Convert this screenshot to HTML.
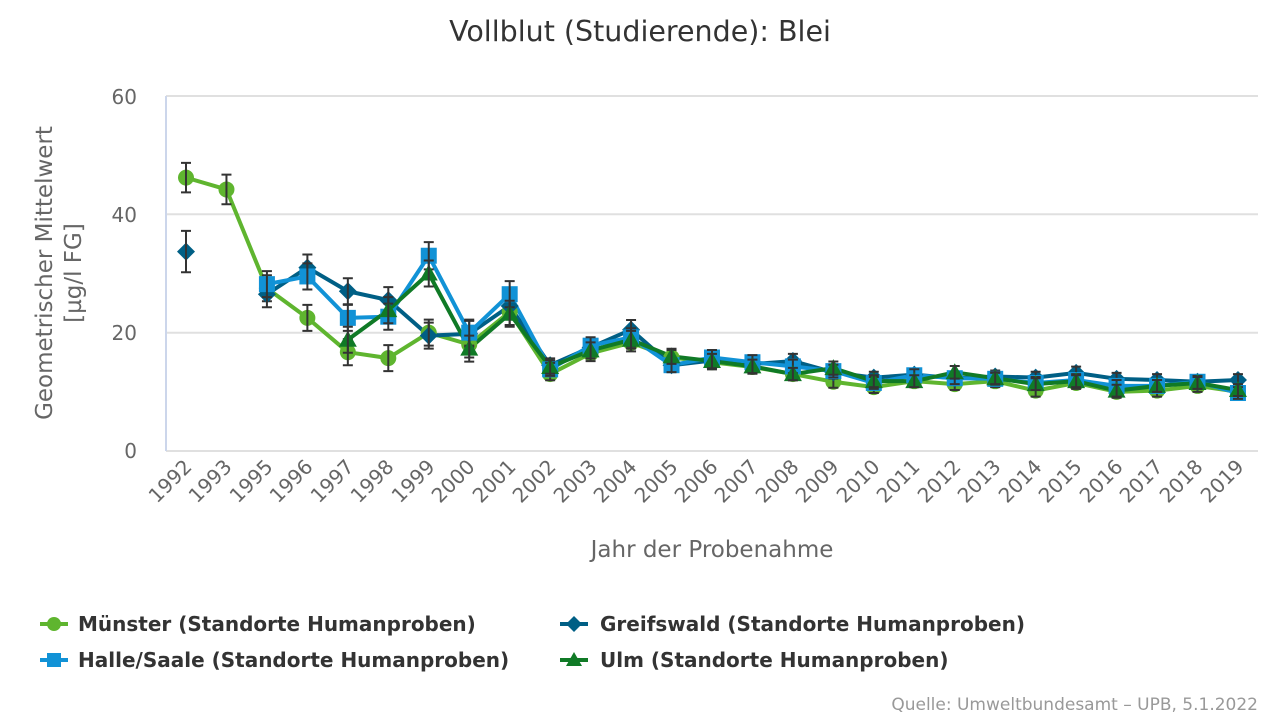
<!DOCTYPE html>
<html><head><meta charset="utf-8"><style>
body{margin:0;background:#fff;font-family:"DejaVu Sans",sans-serif;}
</style></head><body>
<svg width="1280" height="720" xmlns="http://www.w3.org/2000/svg" font-family="DejaVu Sans, sans-serif">
<text x="640" y="41" font-size="28.5" text-anchor="middle" fill="#333">Vollblut (Studierende): Blei</text>
<g stroke="#e0e0e0" stroke-width="2">
<line x1="166" y1="96" x2="1258" y2="96"/><line x1="166" y1="214.3" x2="1258" y2="214.3"/><line x1="166" y1="332.7" x2="1258" y2="332.7"/><line x1="166" y1="451" x2="1258" y2="451"/>
</g>
<line x1="166" y1="96" x2="166" y2="451" stroke="#ccd6eb" stroke-width="2"/>
<g font-size="20" fill="#666" text-anchor="end">
<text x="137" y="104">60</text><text x="137" y="222">40</text><text x="137" y="340">20</text><text x="137" y="458">0</text>
</g>
<text transform="translate(52,273) rotate(-90)" font-size="23" fill="#666" text-anchor="middle">Geometrischer Mittelwert</text>
<text transform="translate(81,273) rotate(-90)" font-size="23" fill="#666" text-anchor="middle">[µg/l FG]</text>
<g font-size="20" fill="#666" text-anchor="end">
<text transform="translate(193,468) rotate(-45)">1992</text>
<text transform="translate(233,468) rotate(-45)">1993</text>
<text transform="translate(274,468) rotate(-45)">1995</text>
<text transform="translate(314,468) rotate(-45)">1996</text>
<text transform="translate(355,468) rotate(-45)">1997</text>
<text transform="translate(395,468) rotate(-45)">1998</text>
<text transform="translate(436,468) rotate(-45)">1999</text>
<text transform="translate(476,468) rotate(-45)">2000</text>
<text transform="translate(517,468) rotate(-45)">2001</text>
<text transform="translate(557,468) rotate(-45)">2002</text>
<text transform="translate(598,468) rotate(-45)">2003</text>
<text transform="translate(638,468) rotate(-45)">2004</text>
<text transform="translate(679,468) rotate(-45)">2005</text>
<text transform="translate(719,468) rotate(-45)">2006</text>
<text transform="translate(759,468) rotate(-45)">2007</text>
<text transform="translate(800,468) rotate(-45)">2008</text>
<text transform="translate(840,468) rotate(-45)">2009</text>
<text transform="translate(881,468) rotate(-45)">2010</text>
<text transform="translate(921,468) rotate(-45)">2011</text>
<text transform="translate(962,468) rotate(-45)">2012</text>
<text transform="translate(1002,468) rotate(-45)">2013</text>
<text transform="translate(1043,468) rotate(-45)">2014</text>
<text transform="translate(1083,468) rotate(-45)">2015</text>
<text transform="translate(1124,468) rotate(-45)">2016</text>
<text transform="translate(1164,468) rotate(-45)">2017</text>
<text transform="translate(1204,468) rotate(-45)">2018</text>
<text transform="translate(1245,468) rotate(-45)">2019</text>
</g>
<text x="712" y="557" font-size="23" fill="#666" text-anchor="middle">Jahr der Probenahme</text>
<g id="series"></g>
<g font-size="20" fill="#333" font-weight="bold">
<line x1="40" y1="624" x2="68" y2="624" stroke="#5fb52f" stroke-width="4"/><circle cx="54" cy="624" r="7" fill="#5fb52f"/>
<text x="78" y="631">Münster (Standorte Humanproben)</text>
<line x1="40" y1="660" x2="68" y2="660" stroke="#1192d6" stroke-width="4"/><rect x="47" y="653" width="14" height="14" fill="#1192d6"/>
<text x="78" y="667">Halle/Saale (Standorte Humanproben)</text>
<line x1="560" y1="624" x2="588" y2="624" stroke="#005f85" stroke-width="4"/><path d="M574 616 L582 624 L574 632 L566 624Z" fill="#005f85"/>
<text x="600" y="631">Greifswald (Standorte Humanproben)</text>
<line x1="560" y1="660" x2="588" y2="660" stroke="#107a26" stroke-width="4"/><path d="M574 652 L582 666 L566 666Z" fill="#107a26"/>
<text x="600" y="667">Ulm (Standorte Humanproben)</text>
</g>
<text x="1258" y="710" font-size="17" fill="#999" text-anchor="end">Quelle: Umweltbundesamt – UPB, 5.1.2022</text>
</svg>
<script>
var N=null;
var S=[
{c:"#5fb52f",m:"c",d:[46.2,44.2,27.5,22.5,16.7,15.7,20,18,23.5,13,16.5,18.3,15.8,15,14.2,13,11.7,10.8,11.8,11.3,11.8,10.2,11.5,10,10.2,11,10]},
{c:"#005f85",m:"d",d:[33.7,N,26.5,31,27,25.5,19.5,19.8,24.5,14.5,17.5,20.5,14.5,15.3,14.7,15.2,13.3,12.4,12.9,12.3,12.6,12.4,13.2,12.2,12,11.7,12]},
{c:"#1192d6",m:"s",d:[N,N,28.2,29.5,22.5,22.7,33,20,26.5,13.8,17.8,19.2,14.5,15.8,15,14.3,13.5,11.5,12.8,12.3,12.2,11.5,12,11,11,11.7,9.8]},
{c:"#107a26",m:"t",d:[N,N,N,N,18.8,23.8,30,17.3,23.2,14.2,17,18.8,16,15.2,14.3,13,14,11.8,11.8,13.3,12.3,11.3,11.8,10.2,11,11.5,10.3]}
];
var X=i=>186+i*40.46,Y=v=>451-v*5.917,h="";
S.forEach(s=>{var p="",st=false;s.d.forEach((v,i)=>{if(v==N){st=false;return;}p+=(st?"L":"M")+X(i)+" "+Y(v);st=true;});
h+='<path d="'+p+'" fill="none" stroke="'+s.c+'" stroke-width="4" stroke-linejoin="round"/>';});
S.forEach(s=>{s.d.forEach((v,i)=>{if(v==N)return;var x=X(i),y=Y(v);
if(s.m=="c")h+='<circle cx="'+x+'" cy="'+y+'" r="8" fill="'+s.c+'"/>';
if(s.m=="s")h+='<rect x="'+(x-8)+'" y="'+(y-8)+'" width="16" height="16" fill="'+s.c+'"/>';
if(s.m=="d")h+='<path d="M'+x+' '+(y-9)+'L'+(x+9)+' '+y+'L'+x+' '+(y+9)+'L'+(x-9)+' '+y+'Z" fill="'+s.c+'"/>';
if(s.m=="t")h+='<path d="M'+x+' '+(y-9)+'L'+(x+9)+' '+(y+7)+'L'+(x-9)+' '+(y+7)+'Z" fill="'+s.c+'"/>';
var e=i<9?Math.max(2.2,v*0.07):Math.max(1,v*0.08);if(i<2)e=2.5;if(s.m=="d"&&i==0)e=3.5;var y1=Y(v+e),y2=Y(v-e);
h+='<path d="M'+x+' '+y1+'V'+y2+'M'+(x-5)+' '+y1+'H'+(x+5)+'M'+(x-5)+' '+y2+'H'+(x+5)+'" stroke="#333" stroke-width="2" fill="none"/>';});});
document.getElementById("series").innerHTML=h;
</script>
</body></html>
